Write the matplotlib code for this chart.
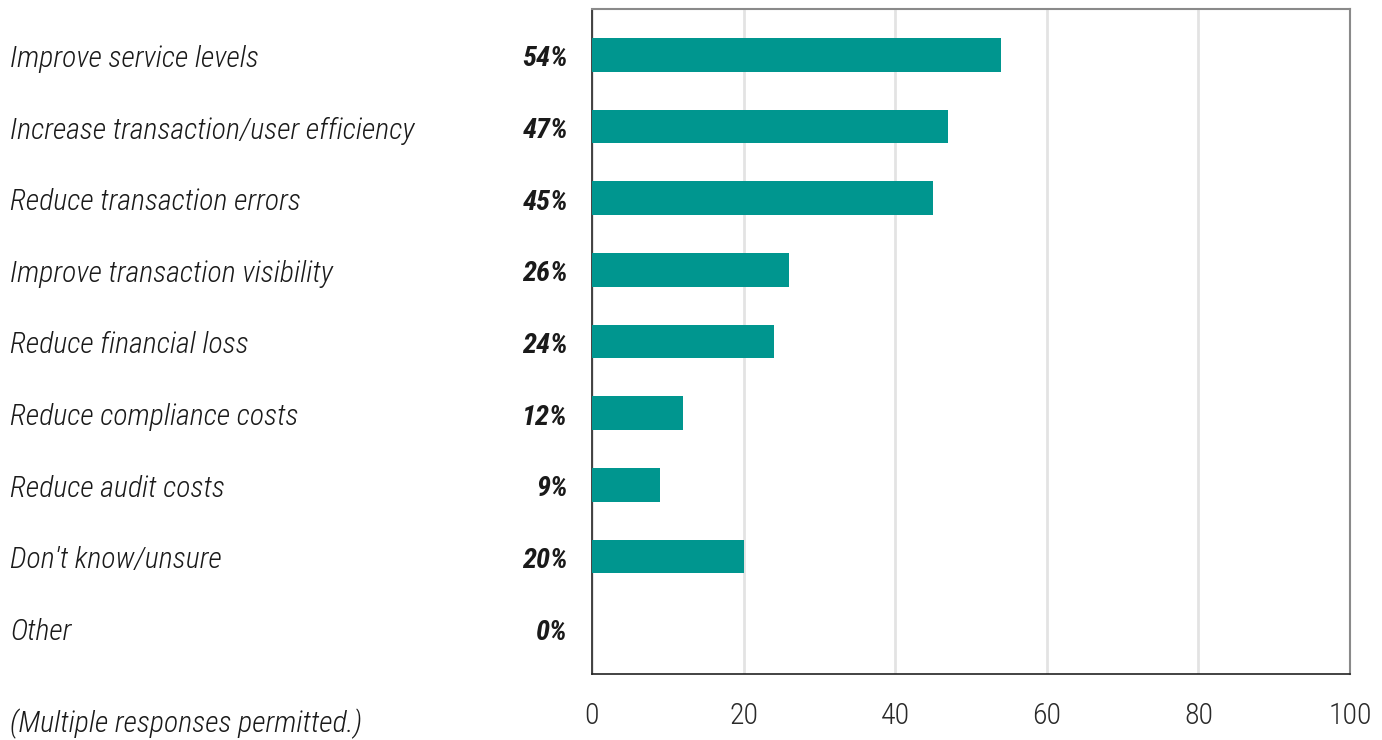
import matplotlib
matplotlib.use("Agg")
import matplotlib.pyplot as plt
from matplotlib import font_manager

categories = [
    "Improve service levels",
    "Increase transaction/user efficiency",
    "Reduce transaction errors",
    "Improve transaction visibility",
    "Reduce financial loss",
    "Reduce compliance costs",
    "Reduce audit costs",
    "Don't know/unsure",
    "Other",
]
values = [54, 47, 45, 26, 24, 12, 9, 20, 0]
xticks = [0, 20, 40, 60, 80, 100]
note = "(Multiple responses permitted.)"

names = {f.name for f in font_manager.fontManager.ttflist}
family = [f for f in ["Roboto Condensed", "Roboto", "DejaVu Sans"] if f in names] or ["DejaVu Sans"]

bar_color = "#00968f"
text_color = "#1a1a1a"
W, H = 1382, 740

fig = plt.figure(figsize=(W / 100, H / 100), dpi=100)
ax = fig.add_axes([592 / W, 1 - 674 / H, (1350 - 592) / W, (674 - 9) / H])

ypos = list(range(len(categories)))
ax.barh(ypos, values, height=0.47, color=bar_color, zorder=3)
ax.set_xlim(0, 100)
ax.set_ylim(len(categories) - 1 + 0.64, -0.64)
ax.set_xticks(xticks)
ax.set_yticks([])
ax.xaxis.grid(True, color="#e3e3e3", linewidth=2, zorder=0)
ax.tick_params(axis="x", length=0, pad=20, labelsize=21.5, labelcolor="#2a2a2a")
for lbl in ax.get_xticklabels():
    lbl.set_family(family)
    lbl.set_weight("light")

for side in ("left", "bottom"):
    ax.spines[side].set_color("#222222")
    ax.spines[side].set_linewidth(1.2)
for side in ("top", "right"):
    ax.spines[side].set_color("#8a8a8a")
    ax.spines[side].set_linewidth(1.5)

to_fig = fig.transFigure.inverted()
for y, cat, v in zip(ypos, categories, values):
    yf = ax.transData.transform((0, y))[1]
    yfig = to_fig.transform((0, yf))[1] - 4 / H
    fig.text(10 / W, yfig, cat, ha="left", va="center", fontsize=21.5,
             style="italic", weight="light", family=family, color=text_color)
    fig.text(568 / W, yfig, f"{v}%", ha="right", va="center", fontsize=20.5,
             style="italic", weight="bold", family=family, color=text_color)

fig.text(10 / W, 1 - 724 / H, note, ha="left", va="center", fontsize=21.5,
         style="italic", weight="light", family=family, color=text_color)

fig.savefig("out.png", dpi=100, facecolor="white")
